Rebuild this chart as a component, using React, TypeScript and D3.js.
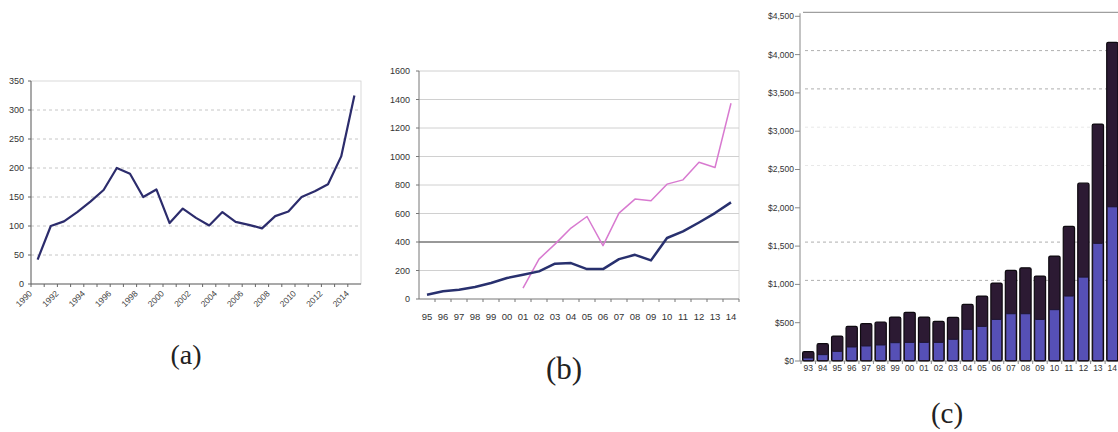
import React from "react";
import * as d3 from "d3";

// ---------- Panel (a) ----------
const yearsA = [1990,1991,1992,1993,1994,1995,1996,1997,1998,1999,2000,2001,2002,2003,2004,2005,2006,2007,2008,2009,2010,2011,2012,2013,2014];
const valuesA = [42,100,108,124,142,162,200,190,150,163,105,130,114,101,124,107,102,96,117,125,150,160,172,220,325];
const ticksA = [0,50,100,150,200,250,300,350];

// ---------- Panel (b) ----------
const catsB = ["95","96","97","98","99","00","01","02","03","04","05","06","07","08","09","10","11","12","13","14"];
const navyB = [30,54,65,84,112,147,170,194,248,252,210,210,280,310,271,428,474,537,603,678];
const pinkB: (number | null)[] = [null,null,null,null,null,null,77,280,385,498,579,374,603,701,689,806,836,960,923,1374];
const ticksB = [0,200,400,600,800,1000,1200,1400,1600];

// ---------- Panel (c) ----------
const catsC = ["93","94","95","96","97","98","99","00","01","02","03","04","05","06","07","08","09","10","11","12","13","14"];
const totalC = [122,226,326,452,487,509,574,635,574,517,570,739,848,1017,1183,1217,1109,1370,1757,2322,3093,4160];
const blueC = [40,83,126,183,196,209,239,243,243,243,283,413,452,543,617,617,543,670,848,1095,1536,2013];
const ticksC = [0,500,1000,1500,2000,2500,3000,3500,4000,4500];
const gridC = [1000,1500,3500,4000];
const fadedGridC = [2500,3000];

const sans = "'Liberation Sans', Arial, sans-serif";
const serif = "'Liberation Serif', 'DejaVu Serif', serif";

function PanelA() {
  const x = d3.scalePoint<number>().domain(yearsA).range([31, 361]).padding(0.5);
  const y = d3.scaleLinear().domain([0, 350]).range([284, 81]);
  const line = d3.line<number>().x((_, i) => x(yearsA[i])!).y((d) => y(d));
  const step = x.step();
  return (
    <g>
      <rect x={31} y={y(350)} width={330} height={y(0) - y(350)} fill="none" stroke="#d0d0d0" strokeWidth={0.8} />
      {ticksA.filter((t) => t > 0 && t < 350).map((t) => (
        <line key={t} x1={31} x2={361} y1={y(t)} y2={y(t)} stroke="#b8b8b8" strokeDasharray="3,3" strokeWidth={0.8} />
      ))}
      <line x1={31} x2={31} y1={y(350)} y2={y(0)} stroke="#666" strokeWidth={1} />
      <line x1={31} x2={361} y1={y(0)} y2={y(0)} stroke="#666" strokeWidth={1} />
      {ticksA.map((t) => (
        <g key={t}>
          <line x1={28} x2={31} y1={y(t)} y2={y(t)} stroke="#666" />
          <text x={24} y={y(t)} dy="0.35em" textAnchor="end" fontSize={9} fill="#333" fontFamily={sans}>{t}</text>
        </g>
      ))}
      {yearsA.map((yr) => (
        <line key={yr} x1={x(yr)! - step / 2} x2={x(yr)! - step / 2} y1={y(0)} y2={y(0) + 3} stroke="#666" />
      ))}
      {yearsA.filter((yr) => yr % 2 === 0).map((yr) => (
        <text key={yr} transform={`translate(${x(yr)! - 7},${y(0) + 8}) rotate(-45)`} textAnchor="end" dy="0.35em" fontSize={8.5} fill="#444" fontFamily={sans}>{yr}</text>
      ))}
      <path d={line(valuesA) || ""} fill="none" stroke="#2c2c6c" strokeWidth={2.2} strokeLinejoin="round" />
      <text x={186} y={364} textAnchor="middle" fontSize={28} fontFamily={serif} fill="#222">(a)</text>
    </g>
  );
}

function PanelB() {
  const x = d3.scalePoint<string>().domain(catsB).range([419, 739]).padding(0.5);
  const y = d3.scaleLinear().domain([0, 1600]).range([299, 71]);
  const step = x.step();
  const lineNavy = d3.line<number>().x((_, i) => x(catsB[i])!).y((d) => y(d));
  const linePink = d3.line<number | null>().defined((d) => d !== null).x((_, i) => x(catsB[i])!).y((d) => y(d as number));
  return (
    <g>
      {ticksB.filter((t) => t > 0).map((t) => (
        <line key={t} x1={419} x2={739} y1={y(t)} y2={y(t)} stroke={t === 400 ? "#333" : "#c4c4c4"} strokeWidth={t === 400 ? 1 : 0.8} />
      ))}
      <line x1={739} x2={739} y1={y(1600)} y2={y(0)} stroke="#d0d0d0" strokeWidth={0.8} />
      <line x1={419} x2={419} y1={y(1600)} y2={y(0)} stroke="#777" strokeWidth={1} />
      <line x1={419} x2={739} y1={y(0)} y2={y(0)} stroke="#777" strokeWidth={1} />
      {ticksB.map((t) => (
        <g key={t}>
          <line x1={416} x2={419} y1={y(t)} y2={y(t)} stroke="#777" />
          <text x={410} y={y(t)} dy="0.35em" textAnchor="end" fontSize={9} fill="#333" fontFamily={sans}>{t}</text>
        </g>
      ))}
      {catsB.map((c) => (
        <g key={c}>
          <line x1={x(c)! + step / 2} x2={x(c)! + step / 2} y1={y(0)} y2={y(0) + 3} stroke="#777" />
          <text x={x(c)!} y={y(0) + 18} dy="0.35em" textAnchor="middle" fontSize={9.5} fill="#333" fontFamily={sans}>{c}</text>
        </g>
      ))}
      <path d={linePink(pinkB) || ""} fill="none" stroke="#d87ad0" strokeWidth={1.5} strokeLinejoin="round" />
      <path d={lineNavy(navyB) || ""} fill="none" stroke="#28306e" strokeWidth={2.5} strokeLinejoin="round" />
      <text x={564} y={379} textAnchor="middle" fontSize={31} fontFamily={serif} fill="#222">(b)</text>
    </g>
  );
}

function PanelC() {
  const x = d3.scaleBand<string>().domain(catsC).range([801, 1119.6]).paddingInner(0.22).paddingOuter(0.11);
  const y = d3.scaleLinear().domain([0, 4500]).range([361, 16.3]);
  const depth = 4;
  const bw = x.bandwidth();
  const step = x.step();
  return (
    <g>
      {gridC.map((t) => (
        <line key={t} x1={805} x2={1118} y1={y(t) - depth} y2={y(t) - depth} stroke="#9a9a9a" strokeDasharray="3,3" strokeWidth={0.8} />
      ))}
      {fadedGridC.map((t) => (
        <line key={t} x1={805} x2={1118} y1={y(t) - depth} y2={y(t) - depth} stroke="#e2e2e2" strokeDasharray="3,3" strokeWidth={0.8} />
      ))}
      <line x1={803} x2={1118} y1={y(4500) - depth} y2={y(4500) - depth} stroke="#888" strokeWidth={1} />
      <line x1={800} x2={800} y1={y(4500) - depth + 1} y2={y(0)} stroke="#888" strokeWidth={1} />
      <line x1={800} x2={1118} y1={y(0)} y2={y(0)} stroke="#888" strokeWidth={1} />
      {ticksC.map((t) => (
        <g key={t}>
          <line x1={795} x2={800} y1={y(t)} y2={y(t)} stroke="#888" />
          <text x={794} y={y(t)} dy="0.35em" textAnchor="end" fontSize={8.5} fill="#333" fontFamily={sans}>{d3.format("$,")(t)}</text>
        </g>
      ))}
      {catsC.map((c, i) => (
        <g key={c}>
          <line x1={x(c)! - (step - bw) / 2} x2={x(c)! - (step - bw) / 2} y1={y(0)} y2={y(0) + 3} stroke="#888" />
          <rect x={x(c)!} y={y(totalC[i])} width={bw} height={y(0) - y(totalC[i])} fill="#2c1a33" stroke="#0e0a10" strokeWidth={1.2} rx={1.5} />
          <rect x={x(c)! + 1} y={y(blueC[i])} width={bw - 2} height={y(0) - y(blueC[i]) - 1} fill="#5650b6" />
          <line x1={x(c)! + 1} x2={x(c)! + bw - 1} y1={y(blueC[i])} y2={y(blueC[i])} stroke="#1e1530" strokeWidth={1} />
          <text x={x(c)! + bw / 2} y={y(0) + 7} dy="0.35em" textAnchor="middle" fontSize={8.5} fill="#333" fontFamily={sans}>{c}</text>
        </g>
      ))}
      <text x={947} y={423} textAnchor="middle" fontSize={29} fontFamily={serif} fill="#222">(c)</text>
    </g>
  );
}

export default function App() {
  return (
    <svg width={1118} height={432} style={{ position: "absolute", left: 0, top: 0, background: "#fff" }}>
      <rect width={1118} height={432} fill="#fff" />
      <PanelA />
      <PanelB />
      <PanelC />
    </svg>
  );
}
